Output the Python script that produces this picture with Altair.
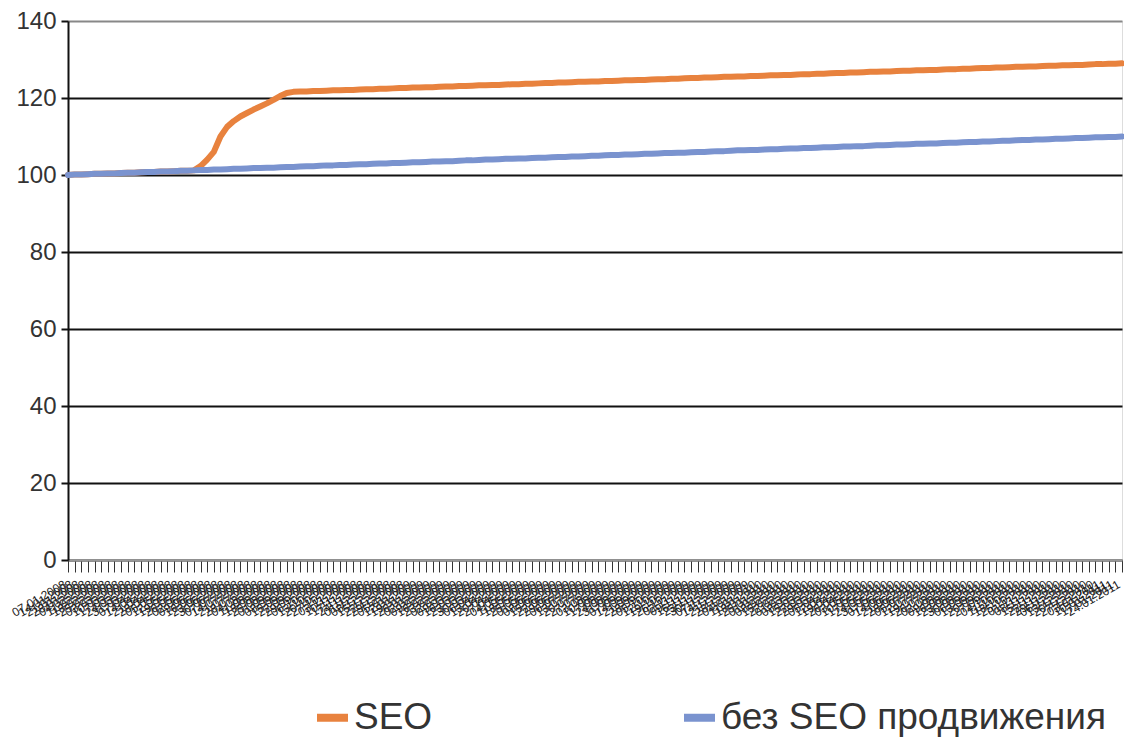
import altair as alt
import pandas as pd

# weekly category labels (illegible in the reference, dense rotated dates)
dates = [d.strftime("%d.%m.%Y") for d in pd.date_range("2008-01-07", periods=160, freq="7D")]

seo = [
    100.0, 100.1, 100.1, 100.2, 100.3, 100.3, 100.4, 100.4, 100.5, 100.6,
    100.6, 100.7, 100.8, 100.8, 100.9, 100.9, 101.0, 101.1, 101.1, 101.2,
    102.3, 104.0, 106.0, 110.0, 112.5, 114.0, 115.2, 116.1, 117.0, 117.8,
    118.6, 119.5, 120.5, 121.3, 121.6, 121.7, 121.7, 121.8, 121.8, 121.9,
    122.0, 122.0, 122.1, 122.1, 122.2, 122.3, 122.3, 122.4, 122.4, 122.5,
    122.6, 122.6, 122.7, 122.7, 122.8, 122.8, 122.9, 123.0, 123.0, 123.1,
    123.1, 123.2, 123.3, 123.3, 123.4, 123.4, 123.5, 123.6, 123.6, 123.7,
    123.7, 123.8, 123.9, 123.9, 124.0, 124.0, 124.1, 124.2, 124.2, 124.3,
    124.3, 124.4, 124.4, 124.5, 124.6, 124.6, 124.7, 124.7, 124.8, 124.9,
    124.9, 125.0, 125.0, 125.1, 125.2, 125.2, 125.3, 125.3, 125.4, 125.5,
    125.5, 125.6, 125.6, 125.7, 125.7, 125.8, 125.9, 125.9, 126.0, 126.0,
    126.1, 126.2, 126.2, 126.3, 126.3, 126.4, 126.5, 126.5, 126.6, 126.6,
    126.7, 126.8, 126.8, 126.9, 126.9, 127.0, 127.1, 127.1, 127.2, 127.2,
    127.3, 127.3, 127.4, 127.5, 127.5, 127.6, 127.6, 127.7, 127.8, 127.8,
    127.9, 127.9, 128.0, 128.1, 128.1, 128.2, 128.2, 128.3, 128.4, 128.4,
    128.5, 128.5, 128.6, 128.6, 128.7, 128.8, 128.8, 128.9, 128.9, 129.0,
]

no_seo = [
    100.0, 100.1, 100.1, 100.2, 100.3, 100.3, 100.4, 100.4, 100.5, 100.6,
    100.6, 100.7, 100.8, 100.8, 100.9, 100.9, 101.0, 101.1, 101.1, 101.2,
    101.3, 101.3, 101.4, 101.4, 101.5, 101.6, 101.6, 101.7, 101.8, 101.8,
    101.9, 101.9, 102.0, 102.1, 102.1, 102.2, 102.3, 102.3, 102.4, 102.5,
    102.5, 102.6, 102.6, 102.7, 102.8, 102.8, 102.9, 103.0, 103.0, 103.1,
    103.1, 103.2, 103.3, 103.3, 103.4, 103.5, 103.5, 103.6, 103.6, 103.7,
    103.8, 103.8, 103.9, 104.0, 104.0, 104.1, 104.2, 104.2, 104.3, 104.3,
    104.4, 104.5, 104.5, 104.6, 104.7, 104.7, 104.8, 104.8, 104.9, 105.0,
    105.0, 105.1, 105.2, 105.2, 105.3, 105.3, 105.4, 105.5, 105.5, 105.6,
    105.7, 105.7, 105.8, 105.8, 105.9, 106.0, 106.0, 106.1, 106.2, 106.2,
    106.3, 106.4, 106.4, 106.5, 106.5, 106.6, 106.7, 106.7, 106.8, 106.9,
    106.9, 107.0, 107.0, 107.1, 107.2, 107.2, 107.3, 107.4, 107.4, 107.5,
    107.5, 107.6, 107.7, 107.7, 107.8, 107.9, 107.9, 108.0, 108.1, 108.1,
    108.2, 108.2, 108.3, 108.4, 108.4, 108.5, 108.6, 108.6, 108.7, 108.7,
    108.8, 108.9, 108.9, 109.0, 109.1, 109.1, 109.2, 109.2, 109.3, 109.4,
    109.4, 109.5, 109.6, 109.6, 109.7, 109.8, 109.8, 109.9, 109.9, 110.0,
]

series_names = ["SEO", "без SEO продвижения"]
colors = ["#E8823E", "#7A93CF"]

rows = []
for i, d in enumerate(dates):
    rows.append({"date": d, "idx": i, "series": series_names[0], "value": seo[i]})
    rows.append({"date": d, "idx": i, "series": series_names[1], "value": no_seo[i]})
df = pd.DataFrame(rows)

chart = (
    alt.Chart(df)
    .mark_line(strokeWidth=6, strokeCap="round", strokeJoin="round")
    .encode(
        x=alt.X(
            "date:O",
            sort=dates,
            scale=alt.Scale(type="point", padding=0),
            axis=alt.Axis(
                title=None,
                labelAngle=330,
                labelFontSize=12,
                labelColor="#1a1a1a",
                labelOverlap=False,
                labelAlign="right",
                labelBaseline="bottom",
                labelPadding=17,
                labelBound=False,
                tickSize=12,
                tickColor="#333333",
                tickWidth=1,
                domainColor="#999999",
                domainWidth=2,
                grid=False,
                labelFont="Liberation Sans",
            ),
        ),
        y=alt.Y(
            "value:Q",
            scale=alt.Scale(domain=[0, 140], nice=False),
            axis=alt.Axis(
                title=None,
                values=[0, 20, 40, 60, 80, 100, 120, 140],
                labelFontSize=24,
                labelColor="#333333",
                labelFont="Liberation Sans",
                labelPadding=5,
                tickSize=7,
                tickColor="#111111",
                tickWidth=2,
                domainColor="#111111",
                domainWidth=2,
                grid=True,
                gridColor={"condition": {"test": "datum.value == 140", "value": "#888888"}, "value": "#111111"},
                gridWidth=2,
            ),
        ),
        color=alt.Color(
            "series:N",
            sort=series_names,
            scale=alt.Scale(domain=series_names, range=colors),
            legend=alt.Legend(
                title=None,
                orient="none",
                direction="horizontal",
                legendX=245,
                legendY=677,
                symbolType="stroke",
                symbolSize=961,
                symbolStrokeWidth=8,
                labelFontSize=37,
                labelFont="Liberation Sans",
                labelColor="#333333",
                labelOffset=2,
                labelLimit=0,
                columnPadding=235,
                padding=0,
            ),
        ),
        order=alt.Order("idx:Q"),
    )
    .properties(
        width=1054,
        height=539,
        padding={"left": 68, "top": 21, "right": 2, "bottom": 177},
        autosize="none",
    )
    .configure_view(stroke=None)
    .configure(background="white")
)

chart.save("out.html", embed_options={"renderer": "svg", "actions": False})
